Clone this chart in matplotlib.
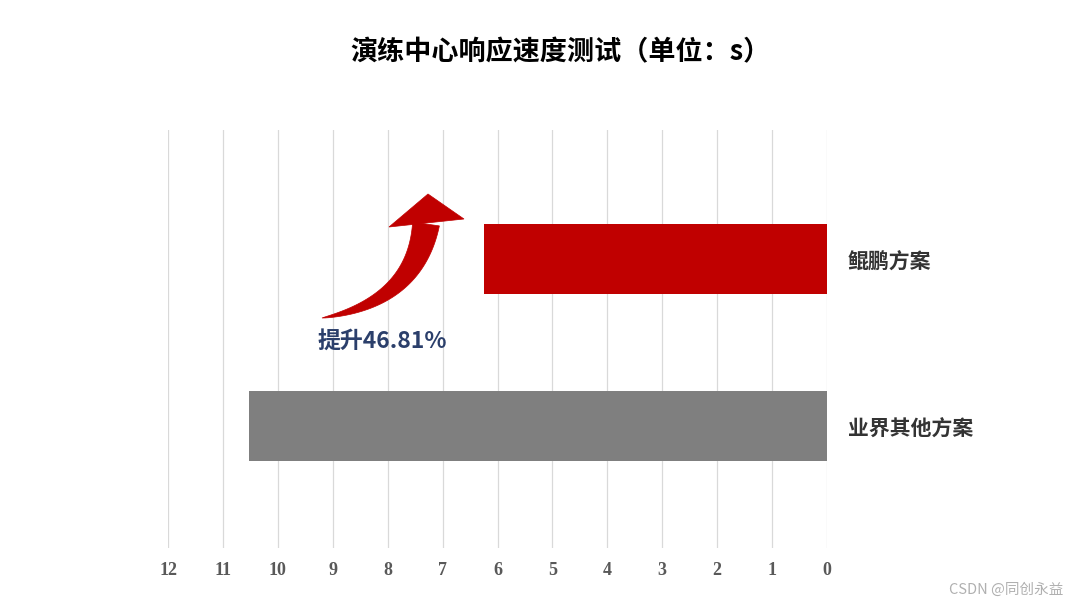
import numpy as np
import matplotlib.pyplot as plt
from matplotlib.patches import Polygon

plt.rcParams['font.family'] = ['Noto Sans CJK SC', 'DejaVu Sans']

schemes = ['业界其他方案', '鲲鹏方案']
times = [10.53, 6.25]
colors = ['#7F7F7F', '#C00000']
ticks = list(range(0, 13))

W, H = 1080, 608
fig = plt.figure(figsize=(W / 100, H / 100), dpi=100)
ax = fig.add_axes([0.1556, 0.0987, 0.6101, 0.6875])

y = np.arange(len(schemes))
ax.barh(y, times, height=0.42, color=colors, zorder=3)

ax.set_xlim(12, 0)
ax.set_ylim(-0.73, 1.77)
ax.set_xticks(ticks)
ax.set_xticklabels([str(t) for t in ticks], family='Liberation Serif',
                   fontweight='bold', fontsize=13, color='#595959')
ax.tick_params(axis='x', length=0, pad=10)
ax.set_yticks([])
ax.grid(axis='x', color='#d9d9d9', linewidth=0.9, zorder=0)
for s in ax.spines.values():
    s.set_visible(False)

for yi, name in zip(y, schemes):
    ax.text(-0.38, yi - 0.02, name, ha='left', va='center', fontsize=15,
            fontweight='bold', color='#333333')

# curved tapered arrow (decoration), built in pixel space
p0 = np.array([322, 318.0])
p1 = np.array([415, 302.0])
p2 = np.array([426, 224.0])
t = np.linspace(0, 1, 60)[:, None]
pts = (1 - t) ** 2 * p0 + 2 * (1 - t) * t * p1 + t ** 2 * p2
tan = 2 * (1 - t) * (p1 - p0) + 2 * t * (p2 - p1)
tan = tan / np.linalg.norm(tan, axis=1, keepdims=True)
nrm = np.column_stack([-tan[:, 1], tan[:, 0]])
half = 13.5 * t ** 0.8
left = pts + nrm * half
right = pts - nrm * half
shaft = np.vstack([left, right[::-1]])
head = np.array([[389, 227.0], [428, 194.0], [464, 219.0]])
for shape in (shaft, head):
    xy = np.column_stack([shape[:, 0] / W, 1 - shape[:, 1] / H])
    fig.patches.append(Polygon(xy, closed=True, transform=fig.transFigure,
                               facecolor='#C00000', edgecolor='#C00000',
                               linewidth=0.5, zorder=5))

ax.text(8.1, 0.506, '提升46.81%', ha='center', va='center', fontsize=16.5,
        fontweight='bold', color='#2B3F6B')

fig.text(0.519, 0.914, '演练中心响应速度测试（单位：s）', ha='center', va='center',
         fontsize=19.5, fontweight='bold', color='#000000')
fig.text(0.985, 0.03, 'CSDN @同创永益', ha='right', va='center', fontsize=10.5,
         color='#b0b0b0')

fig.savefig('out.png', dpi=100)
